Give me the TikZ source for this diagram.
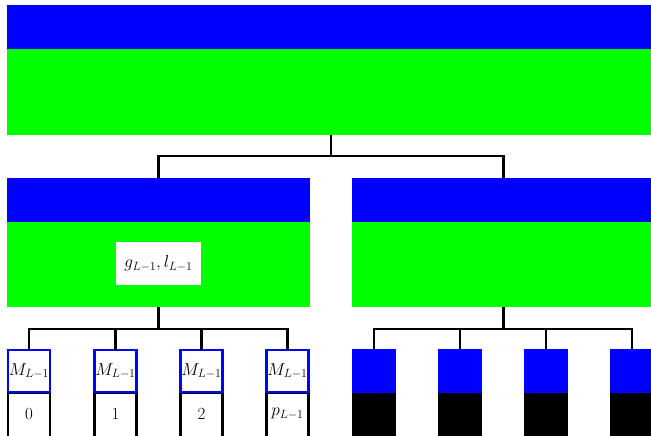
\documentclass[tikz,border=0pt]{standalone}
\definecolor{pblue}{RGB}{0,0,255}
\definecolor{pgreen}{RGB}{0,255,0}
\begin{document}
\begin{tikzpicture}[x=1pt,y=-1pt,
  blk/.style={rectangle,inner sep=0pt,outer sep=0pt},
  bluebar/.style={blk,fill=pblue},
  greenbar/.style={blk,fill=pgreen},
  conn/.style={line width=2.3pt,black},
  mbox/.style={blk,draw=pblue,line width=2.4pt,fill=white,minimum width=42pt,minimum height=42pt,font=\fontsize{17}{20}\selectfont},
  ibox/.style={blk,draw=black,line width=2.3pt,minimum width=42pt,minimum height=48pt},
  itext/.style={blk,font=\fontsize{17}{20}\selectfont},
  sbluebox/.style={blk,fill=pblue,minimum width=44pt,minimum height=43.5pt},
  sblackbox/.style={blk,fill=black,minimum width=44pt,minimum height=46pt}
]
\clip (0,0) rectangle (651,436);
\fill[white] (0,0) rectangle (651,436);
% top box
\node[bluebar,minimum width=648pt,minimum height=44pt] (tb) at (331,27) {};
\node[greenbar,minimum width=648pt,minimum height=86pt] (tg) at (331,92) {};
% middle boxes
\node[bluebar,minimum width=303pt,minimum height=44pt] (lb) at (158.5,200) {};
\node[greenbar,minimum width=303pt,minimum height=85pt] (lg) at (158.5,264.5) {};
\node[bluebar,minimum width=303pt,minimum height=44pt] (rb) at (503.5,200) {};
\node[greenbar,minimum width=303pt,minimum height=85pt] (rg) at (503.5,264.5) {};
\node[blk,fill=white,minimum width=85pt,minimum height=43pt,font=\fontsize{17}{20}\selectfont] (gl) at (158.5,263.5) {$g_{L-1}, l_{L-1}$};
% top connectors
\coordinate (jt) at (331,156);
\draw[conn] (tg.south) -- (jt);
\draw[conn] (lb.north) |- (jt) -| (rb.north);
% left bottom boxes
\foreach \i/\x/\t in {1/29/0,2/115.5/1,3/201.5/2,4/287.5/{$p_{L-1}$}}{
  \node[ibox] (n\i) at (\x,417) {};
  \node[itext] (t\i) at (\x,414) {\t};
  \node[mbox] (m\i) at (\x,371) {$M_{L-1}$};
}
\coordinate (jl) at (158.5,329);
\draw[conn] (lg.south) -- (jl);
\draw[conn] (m1.north) |- (jl) -| (m4.north);
\draw[conn] (m2.north) |- (jl);
\draw[conn] (m3.north) |- (jl);
% right bottom boxes
\foreach \i/\x in {1/374,2/460,3/546,4/632}{
  \node[sblackbox] (k\i) at (\x,415.5) {};
  \node[sbluebox] (q\i) at (\x,370.75) {};
}
\coordinate (jr) at (503.5,329);
\draw[conn] (rg.south) -- (jr);
\draw[conn] (q1.north) |- (jr) -| (q4.north);
\draw[conn] (q2.north) |- (jr);
\draw[conn] (q3.north) |- (jr);
\end{tikzpicture}
\end{document}
